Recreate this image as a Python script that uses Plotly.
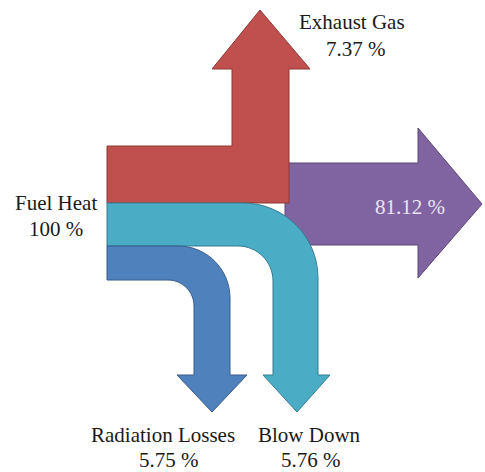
import plotly.graph_objects as go

# ---- data -------------------------------------------------------------
names = ["Fuel Heat", "Exhaust Gas", "", "Radiation Losses", "Blow Down"]
values = [100, 7.37, 81.12, 5.75, 5.76]

# ---- styles / layout constants ------------------------------------------
W, H = 485, 472
K = 0.5523  # bezier quarter-circle constant
FONT = "Liberation Serif, Times New Roman, serif"
TXT = "#1a1a1a"

fills = {"red": "#C0504D", "purple": "#8064A2", "teal": "#4BACC6", "blue": "#4F81BD"}
lines = {"red": "#8C3836", "purple": "#5C4776", "teal": "#357D92", "blue": "#385D8A"}


def corner(xv, ytop, r, reverse=False):
    """quarter turn from horizontal (going right) to vertical (going down)"""
    p0 = (xv - r, ytop)
    p1 = (xv - r + K * r, ytop)
    p2 = (xv, ytop + r - K * r)
    p3 = (xv, ytop + r)
    if reverse:
        return f"C {p2[0]},{p2[1]} {p1[0]},{p1[1]} {p0[0]},{p0[1]} "
    return f"C {p1[0]},{p1[1]} {p2[0]},{p2[1]} {p3[0]},{p3[1]} "


# red: Exhaust Gas (L-shaped, up arrow)
red_path = ("M 107,146 L 232,146 L 232,69 L 212,69 L 260,10 L 310,69 L 289,69 "
            "L 289,203 L 107,203 Z")

# purple: main output (right arrow)
purple_path = ("M 285,163 L 418,163 L 418,128 L 482,204 L 418,278 L 418,245 "
               "L 285,245 Z")

# teal: Blow Down (bent down arrow)
t_top, t_bot = 203, 246
t_xo, t_xi, t_R, t_r = 318, 273, 75, 35
teal_path = (f"M 107,{t_top} L {t_xo - t_R},{t_top} " + corner(t_xo, t_top, t_R)
             + f"L {t_xo},375 L 330,375 L 297,412 L 263,375 L {t_xi},375 "
             + f"L {t_xi},{t_bot + t_r} " + corner(t_xi, t_bot, t_r, reverse=True)
             + f"L 107,{t_bot} Z")

# blue: Radiation Losses (bent down arrow)
b_top, b_bot = 246, 280
b_xo, b_xi, b_R, b_r = 230, 194, 52, 26
blue_path = (f"M 107,{b_top} L {b_xo - b_R},{b_top} " + corner(b_xo, b_top, b_R)
             + f"L {b_xo},375 L 247,375 L 212,412 L 177,375 L {b_xi},375 "
             + f"L {b_xi},{b_bot + b_r} " + corner(b_xi, b_bot, b_r, reverse=True)
             + f"L 107,{b_bot} Z")

shapes = []
for path, key in [(purple_path, "purple"), (red_path, "red"),
                  (teal_path, "teal"), (blue_path, "blue")]:
    shapes.append(dict(type="path", path=path, xref="x", yref="y",
                       fillcolor=fills[key], line=dict(color=lines[key], width=1),
                       layer="above"))

# label positions (name line, value line) per node
label_pos = [
    ((55.5, 203), (55.5, 229)),      # Fuel Heat
    ((352, 22), (356, 48.5)),        # Exhaust Gas
    (None, (410, 206.5)),            # main output
    ((163, 435), (168.5, 460)),      # Radiation Losses
    ((309.5, 435), (311, 460)),      # Blow Down
]

annotations = []
for name, val, (npos, vpos) in zip(names, values, label_pos):
    col = TXT if name else "#EAE5F1"
    if name:
        annotations.append(dict(x=npos[0], y=npos[1], text=name, showarrow=False,
                                xref="x", yref="y", xanchor="center", yanchor="middle",
                                borderpad=0,
                                font=dict(family=FONT, size=21, color=col)))
    annotations.append(dict(x=vpos[0], y=vpos[1], text=f"{val:g} %", showarrow=False,
                            xref="x", yref="y", xanchor="center", yanchor="middle",
                            borderpad=0,
                            font=dict(family=FONT, size=21, color=col)))

fig = go.Figure()
fig.add_trace(go.Scatter(x=[0, W], y=[0, H], mode="markers",
                         marker=dict(opacity=0), hoverinfo="skip", showlegend=False))
fig.update_layout(
    width=W, height=H,
    margin=dict(l=0, r=0, t=0, b=0),
    paper_bgcolor="white", plot_bgcolor="white",
    xaxis=dict(range=[0, W], visible=False, fixedrange=True),
    yaxis=dict(range=[H, 0], visible=False, fixedrange=True),
    shapes=shapes, annotations=annotations, showlegend=False,
)
fig.write_html("out.html", config={"displayModeBar": False},
               post_script="document.body.style.margin='0';"
                           "document.body.style.overflow='hidden';")
